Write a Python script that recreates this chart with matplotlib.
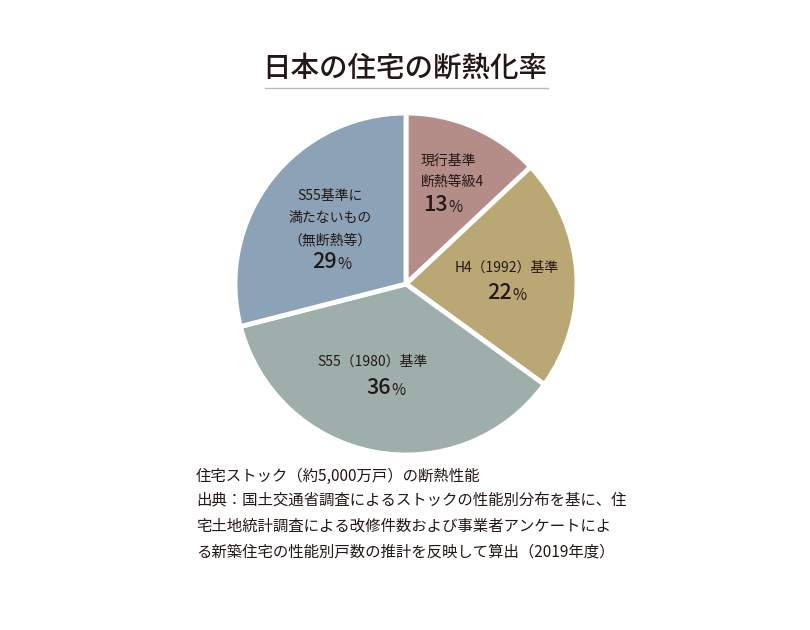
import matplotlib
matplotlib.use("Agg")
import matplotlib.pyplot as plt

plt.rcParams['font.family'] = ['Noto Sans CJK JP', 'DejaVu Sans']

title = "日本の住宅の断熱化率"
categories = ["現行基準\n断熱等級4", "H4（1992）基準", "S55（1980）基準", "S55基準に\n満たないもの\n（無断熱等）"]
values = [13, 22, 36, 29]
colors = ["#b48c88", "#b9a774", "#9eaeab", "#8ca2b6"]
notes = [
    "住宅ストック（約5,000万戸）の断熱性能",
    "出典：国土交通省調査によるストックの性能別分布を基に、住",
    "宅土地統計調査による改修件数および事業者アンケートによ",
    "る新築住宅の性能別戸数の推計を反映して算出（2019年度）",
]

W, H = 810, 630
fig = plt.figure(figsize=(W / 100, H / 100), dpi=100)
fig.patch.set_facecolor("white")

cx, cy, r = 406, 284, 171
ax = fig.add_axes([(cx - r) / W, (H - cy - r) / H, 2 * r / W, 2 * r / H])
ax.pie(values, colors=colors, startangle=90, counterclock=False,
       wedgeprops=dict(edgecolor="white", linewidth=3.5))
ax.set_xlim(-1, 1)
ax.set_ylim(-1, 1)
ax.set_aspect("equal")
ax.axis("off")

tc = "#231815"

def d(px, py):
    return ((px - cx) / r, (cy - py) / r)

def pct(px, py, v):
    x, y = d(px, py)
    ax.text(x, y, str(v), ha="right", va="center", fontsize=15.5, color=tc, fontweight="medium")
    ax.text(x + 0.005, y - 0.012, "%", ha="left", va="center", fontsize=11, color=tc)

# slice 1
lines1 = categories[0].split("\n")
for i, t in enumerate(lines1):
    x, y = d(421, 161 + i * 21)
    ax.text(x, y, t, ha="left", va="center", fontsize=10, color=tc)
pct(448, 205, values[0])

# slice 2
x, y = d(507, 268)
ax.text(x, y, categories[1], ha="center", va="center", fontsize=10, color=tc)
pct(512, 293, values[1])

# slice 3
x, y = d(372, 362)
ax.text(x, y, categories[2], ha="center", va="center", fontsize=10, color=tc)
pct(391, 388, values[2])

# slice 4
lines4 = categories[3].split("\n")
for i, t in enumerate(lines4):
    x, y = d(330, 196 + i * 22)
    ax.text(x, y, t, ha="center", va="center", fontsize=10, color=tc)
pct(337, 262, values[3])

# title
fig.text(405 / W, 1 - 68 / H, title, ha="center", va="center", fontsize=20.5, color=tc, fontweight="medium")
fig.add_artist(plt.Line2D([265 / W, 548 / W], [1 - 88 / H, 1 - 88 / H], color="#bbbbbb", linewidth=1))

# notes
for i, t in enumerate(notes):
    fig.text(196 / W, 1 - (476 + i * 25.2) / H, t, ha="left", va="center", fontsize=11.1, color=tc)

fig.savefig("out.png", dpi=100)
